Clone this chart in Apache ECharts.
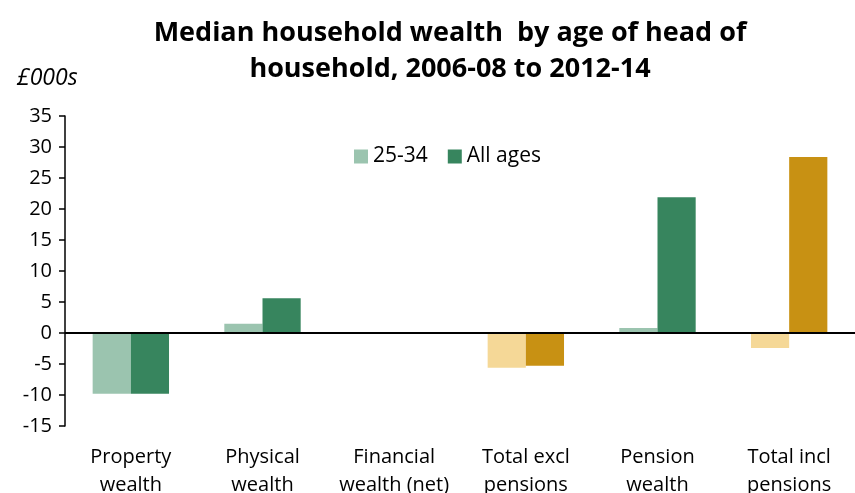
<!DOCTYPE html>
<html>
<head>
<meta charset="utf-8">
<script src="https://cdn.jsdelivr.net/npm/echarts@6/dist/echarts.min.js"></script>
<style>
  html, body { margin: 0; padding: 0; background: #fff; }
  #main { width: 855px; height: 493px; }
</style>
</head>
<body>
<div id="main"></div>
<script>
// categories and values (£000s)
var categories = ['Property\nwealth', 'Physical\nwealth', 'Financial\nwealth (net)', 'Total excl\npensions', 'Pension\nwealth', 'Total incl\npensions'];
var young = [-9.8, 1.5, 0, -5.6, 0.8, -2.4];
var allAges = [-9.8, 5.6, 0, -5.3, 21.9, 28.4];
var totalIdx = [3, 5]; // totals drawn in gold

var lightGreen = '#9bc4af', darkGreen = '#37855e';
var lightGold = '#f5d897', darkGold = '#c89113';

var chart = echarts.init(document.getElementById('main'));

function colorFor(i, light) {
  if (totalIdx.indexOf(i) >= 0) return light ? lightGold : darkGold;
  return light ? lightGreen : darkGreen;
}

var font = '"Open Sans", sans-serif';

chart.setOption({
  animation: false,
  title: {
    text: 'Median household wealth  by age of head of\nhousehold, 2006-08 to 2012-14',
    left: 445,
    textAlign: 'center',
    top: 10,
    textStyle: { fontFamily: font, fontWeight: 'bold', fontSize: 27, lineHeight: 36, color: '#000' }
  },
  graphic: [{
    type: 'text',
    left: 17,
    top: 67,
    style: { text: '£000s', font: 'italic 23px "Open Sans", sans-serif', fill: '#000' }
  }],
  legend: {
    data: ['25-34', 'All ages'],
    left: 349,
    top: 141,
    itemWidth: 14,
    itemHeight: 14,
    itemGap: 20,
    icon: 'rect',
    textStyle: { fontFamily: font, fontSize: 21, color: '#000' }
  },
  grid: { left: 65, right: 0, top: 116, bottom: 67, outerBoundsMode: 'none' },
  xAxis: {
    type: 'category',
    data: categories,
    axisLine: { show: false },
    axisTick: { show: false },
    axisLabel: { fontFamily: font, fontSize: 20, lineHeight: 28, color: '#000', margin: 17, interval: 0 }
  },
  yAxis: {
    type: 'value',
    min: -15,
    max: 35,
    interval: 5,
    splitLine: { show: false },
    axisLine: { show: true, lineStyle: { color: '#000', width: 1.5 } },
    axisTick: { show: true, length: 6, lineStyle: { color: '#000', width: 1.5 } },
    axisLabel: { fontFamily: font, fontSize: 20, color: '#000', margin: 13 }
  },
  series: [{
    name: '25-34',
    type: 'bar',
    barGap: '0%',
    barCategoryGap: '42%',
    itemStyle: { color: lightGreen },
    data: young.map(function (v, i) { return { value: v, itemStyle: { color: colorFor(i, true) } }; }),
    markLine: {
      silent: true,
      symbol: 'none',
      label: { show: false },
      lineStyle: { color: '#000', width: 2, type: 'solid' },
      data: [{ yAxis: 0 }]
    }
  }, {
    name: 'All ages',
    type: 'bar',
    barGap: '0%',
    barCategoryGap: '42%',
    itemStyle: { color: darkGreen },
    data: allAges.map(function (v, i) { return { value: v, itemStyle: { color: colorFor(i, false) } }; })
  }]
});
</script>
</body>
</html>
